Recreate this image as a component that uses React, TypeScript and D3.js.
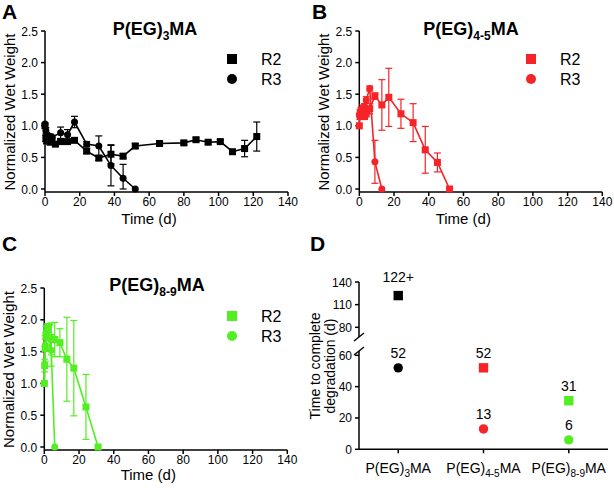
import React from 'react';
import * as d3 from 'd3';

// ---------- Data ----------
const timeA_R2 = [0, 0.5, 1, 2, 3, 4, 6, 9, 13, 17, 24, 31, 38, 45, 52, 66, 80, 87, 94, 101, 108, 115, 122];
const valA_R2 = [1.0, 0.8, 0.76, 0.78, 0.74, 0.78, 0.71, 0.75, 0.75, 0.77, 0.6, 0.49, 0.55, 0.52, 0.68, 0.72, 0.73, 0.78, 0.74, 0.75, 0.59, 0.64, 0.83];
const sdA_R2 = [0, 0.05, 0.04, 0.04, 0.03, 0.04, 0.03, 0.04, 0.03, 0.03, 0.04, 0.04, 0.15, 0.04, 0.04, 0.03, 0.03, 0.03, 0.03, 0.03, 0.03, 0.13, 0.23];
const timeA_R3 = [0, 0.5, 1, 2, 3, 4, 9, 13, 17, 24, 31, 38, 45, 52];
const valA_R3 = [1.03, 0.92, 0.85, 0.8, 0.83, 0.82, 0.89, 0.86, 1.06, 0.71, 0.68, 0.37, 0.17, 0];
const sdA_R3 = [0, 0.05, 0.04, 0.03, 0.04, 0.03, 0.09, 0.08, 0.09, 0.04, 0.16, 0.32, 0.22, 0];

const timeB_R2 = [0, 0.5, 1, 2, 3, 4, 6, 9, 13, 17, 24, 31, 38, 45, 52];
const valB_R2 = [1.0, 1.15, 1.17, 1.22, 1.15, 1.2, 1.27, 1.47, 1.33, 1.45, 1.19, 1.05, 0.62, 0.42, 0];
const sdB_R2 = [0, 0.05, 0.05, 0.06, 0.05, 0.06, 0.08, 0.05, 0.4, 0.46, 0.23, 0.3, 0.37, 0.15, 0];
const timeB_R3 = [0, 0.5, 1, 2, 3, 4, 6, 9, 13];
const valB_R3 = [1.17, 1.22, 1.25, 1.28, 1.3, 1.41, 1.59, 0.43, 0];
const sdB_R3 = [0, 0.04, 0.04, 0.05, 0.05, 0.05, 0.04, 0.34, 0];

const timeC_R2 = [0, 0.25, 0.5, 1, 2, 3, 4, 6, 9, 13, 17, 24, 31];
const valC_R2 = [1.0, 1.28, 1.55, 1.75, 1.87, 1.72, 1.7, 1.69, 1.64, 1.38, 1.24, 0.63, 0];
const sdC_R2 = [0, 0.1, 0.2, 0.15, 0.07, 0.2, 0.25, 0.27, 0.22, 0.66, 0.75, 0.51, 0];
const timeC_R3 = [0, 0.5, 1, 2, 3, 4, 6];
const valC_R3 = [1.0, 1.6, 1.8, 1.87, 1.72, 1.52, 0];
const sdC_R3 = [0, 0.1, 0.1, 0.05, 0.2, 0.25, 0];

const xTicks = [0, 20, 40, 60, 80, 100, 120, 140];
const yTicks = [0, 0.5, 1.0, 1.5, 2.0, 2.5];

const categoriesD = ['3', '4-5', '8-9'];
const dR2 = [122, 52, 31];
const dR3 = [52, 13, 6];
const dR2Labels = ['122+', '52', '31'];
const dR3Labels = ['52', '13', '6'];
const dTicksLow = [0, 20, 40, 60];
const dTicksHigh = [80, 110, 140];

const FONT = "'Liberation Sans', Arial, Helvetica, sans-serif";
const BLACK = '#000000';
const RED = '#f42428';
const GREEN = '#52ee22';

type Series = { t: number[]; v: number[]; sd: number[]; shape: 'square' | 'circle' };

function Marker({ shape, cx, cy, size, color }: any) {
  if (shape === 'square')
    return <rect x={cx - size / 2} y={cy - size / 2} width={size} height={size} fill={color} />;
  return <circle cx={cx} cy={cy} r={size / 2} fill={color} />;
}

function Curve({ s, x, y, color, size }: any) {
  const pts = s.t.map((t: number, i: number) => [x(t), y(s.v[i])] as [number, number]);
  const line = d3.line();
  return (
    <g>
      {s.t.map((t: number, i: number) => {
        if (!s.sd[i]) return null;
        const cx = x(t);
        const y1 = y(Math.max(0, s.v[i] - s.sd[i]));
        const y2 = y(s.v[i] + s.sd[i]);
        return (
          <g key={'e' + i} stroke={color} strokeWidth={1.2}>
            <line x1={cx} x2={cx} y1={y1} y2={y2} />
            <line x1={cx - 3.5} x2={cx + 3.5} y1={y1} y2={y1} />
            <line x1={cx - 3.5} x2={cx + 3.5} y1={y2} y2={y2} />
          </g>
        );
      })}
      <path d={line(pts) || ''} fill="none" stroke={color} strokeWidth={1.6} />
      {pts.map((p, i) => (
        <Marker key={'m' + i} shape={s.shape} cx={p[0]} cy={p[1]} size={size} color={color} />
      ))}
    </g>
  );
}

function Title({ cx, y, sub }: any) {
  return (
    <text x={cx} y={y} textAnchor="middle" fontFamily={FONT} fontWeight="bold" fontSize={18}>
      P(EG)
      <tspan dy={5} fontSize={12}>{sub}</tspan>
      <tspan dy={-5}>MA</tspan>
    </text>
  );
}

function Panel({ ax, ay0, ayTop, color, series, sub, titleX, titleY, legX, legY, letter, letterX, letterY, timeDy }: any) {
  const x = d3.scaleLinear().domain([0, 140]).range([ax, ax + 243]);
  const y = d3.scaleLinear().domain([0, 2.5]).range([ay0, ayTop]);
  const axisY = ay0 + 3;
  return (
    <g fontFamily={FONT}>
      <text x={letterX} y={letterY} fontSize={21} fontWeight="bold">{letter}</text>
      <g stroke="#000" strokeWidth={1.5}>
        <line x1={ax} x2={ax} y1={ayTop} y2={axisY} />
        <line x1={ax} x2={x(140)} y1={axisY} y2={axisY} />
        {xTicks.map((t) => (
          <line key={t} x1={x(t)} x2={x(t)} y1={axisY} y2={axisY + 4} />
        ))}
        {yTicks.map((t) => (
          <line key={t} x1={ax - 4} x2={ax} y1={y(t)} y2={y(t)} />
        ))}
      </g>
      {xTicks.map((t) => (
        <text key={t} x={x(t)} y={axisY + 14} textAnchor="middle" fontSize={12}>{t}</text>
      ))}
      {yTicks.map((t) => (
        <text key={t} x={ax - 7} y={y(t) + 4.5} textAnchor="end" fontSize={12}>{t.toFixed(1)}</text>
      ))}
      <text x={ax + 104} y={axisY + timeDy} textAnchor="middle" fontSize={15}>Time (d)</text>
      <text
        transform={`translate(${ax - 30},${(ay0 + ayTop) / 2 + 2}) rotate(-90)`}
        textAnchor="middle"
        fontSize={15}
      >
        Normalized Wet Weight
      </text>
      <Title cx={titleX} y={titleY} sub={sub} />
      {series.map((s: Series, i: number) => (
        <Curve key={i} s={s} x={x} y={y} color={color} size={7} />
      ))}
      <rect x={legX - 5} y={legY - 5} width={10} height={10} fill={color} />
      <circle cx={legX} cy={legY + 20} r={5} fill={color} />
      <text x={legX + 29} y={legY + 5.5} fontSize={16}>R2</text>
      <text x={legX + 29} y={legY + 25.5} fontSize={16}>R3</text>
    </g>
  );
}

function PanelD() {
  const ax = 359;
  const x = d3.scalePoint<string>().domain(categoriesD).range([359, 608]).padding(0.46);
  const yLow = d3.scaleLinear().domain([0, 60]).range([449.3, 355.3]);
  const yHigh = d3.scaleLinear().domain([80, 140]).range([327.3, 282]);
  const yv = (v: number) => (v <= 60 ? yLow(v) : yHigh(v));
  const colors = [BLACK, RED, GREEN];
  const axisY = yLow(0);
  return (
    <g fontFamily={FONT}>
      <text x={310} y={251} fontSize={21} fontWeight="bold">D</text>
      <g stroke="#000" strokeWidth={1.5}>
        <line x1={ax} x2={ax} y1={axisY} y2={351} />
        <line x1={ax} x2={ax} y1={yHigh(140)} y2={337} />
        <line x1={ax - 5} x2={ax + 5} y1={341} y2={333} />
        <line x1={ax - 5} x2={ax + 5} y1={355} y2={347} />
        <line x1={ax} x2={608} y1={axisY} y2={axisY} />
        {dTicksLow.map((t) => (
          <line key={'l' + t} x1={ax - 4} x2={ax} y1={yLow(t)} y2={yLow(t)} />
        ))}
        {dTicksHigh.map((t) => (
          <line key={'h' + t} x1={ax - 4} x2={ax} y1={yHigh(t)} y2={yHigh(t)} />
        ))}
        {categoriesD.map((c) => (
          <line key={c} x1={x(c)} x2={x(c)} y1={axisY} y2={axisY + 4} />
        ))}
      </g>
      {dTicksLow.map((t) => (
        <text key={'l' + t} x={ax - 7} y={yLow(t) + 4.5} textAnchor="end" fontSize={12}>{t}</text>
      ))}
      {dTicksHigh.map((t) => (
        <text key={'h' + t} x={ax - 7} y={yHigh(t) + 4.5} textAnchor="end" fontSize={12}>{t}</text>
      ))}
      {categoriesD.map((c) => (
        <text key={c} x={x(c)} y={473} textAnchor="middle" fontSize={14}>
          P(EG)
          <tspan dy={4} fontSize={10}>{c}</tspan>
          <tspan dy={-4}>MA</tspan>
        </text>
      ))}
      <text transform={`translate(320,366) rotate(-90)`} textAnchor="middle" fontSize={14}>
        Time to complete
      </text>
      <text transform={`translate(335,366) rotate(-90)`} textAnchor="middle" fontSize={14}>
        degradation (d)
      </text>
      {categoriesD.map((c, i) => {
        const cx = x(c) as number;
        const ys = yv(dR2[i]);
        const yc = yv(dR3[i]);
        return (
          <g key={c}>
            <rect x={cx - 4.7} y={ys - 4.7} width={9.4} height={9.4} fill={colors[i]} />
            <circle cx={cx} cy={yc} r={4.7} fill={colors[i]} />
            <text x={cx} y={ys - (dR2[i] > 60 ? 14 : 10)} textAnchor="middle" fontSize={14}>{dR2Labels[i]}</text>
            <text x={cx} y={yc - 10} textAnchor="middle" fontSize={14}>{dR3Labels[i]}</text>
          </g>
        );
      })}
    </g>
  );
}

export default function App() {
  const seriesA: Series[] = [
    { t: timeA_R2, v: valA_R2, sd: sdA_R2, shape: 'square' },
    { t: timeA_R3, v: valA_R3, sd: sdA_R3, shape: 'circle' },
  ];
  const seriesB: Series[] = [
    { t: timeB_R2, v: valB_R2, sd: sdB_R2, shape: 'square' },
    { t: timeB_R3, v: valB_R3, sd: sdB_R3, shape: 'circle' },
  ];
  const seriesC: Series[] = [
    { t: timeC_R2, v: valC_R2, sd: sdC_R2, shape: 'square' },
    { t: timeC_R3, v: valC_R3, sd: sdC_R3, shape: 'circle' },
  ];
  return (
    <svg
      width={614}
      height={491}
      viewBox="0 0 614 491"
      style={{ position: 'absolute', left: 0, top: 0, background: '#fff' }}
    >
      <rect width={614} height={491} fill="#fff" />
      <Panel ax={45} ay0={189} ayTop={31} color={BLACK} series={seriesA} sub="3" timeDy={32}
        titleX={155} titleY={35} legX={232} legY={59} letter="A" letterX={2} letterY={19} />
      <Panel ax={359.3} ay0={189} ayTop={31} color={RED} series={seriesB} sub="4-5" timeDy={32}
        titleX={471} titleY={35} legX={531} legY={59} letter="B" letterX={312} letterY={19} />
      <Panel ax={44.3} ay0={447} ayTop={288} color={GREEN} series={seriesC} sub="8-9" timeDy={30}
        titleX={157} titleY={291} legX={232} legY={316} letter="C" letterX={2} letterY={251} />
      <PanelD />
    </svg>
  );
}
